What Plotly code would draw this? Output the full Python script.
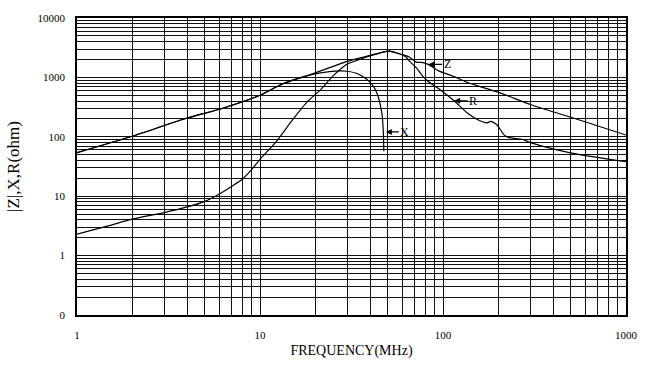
import math
import plotly.graph_objects as go

# |Z| impedance curve (ohm) vs frequency (MHz)
freq_z = [1, 2, 4, 6.2, 10, 13.1, 19.7, 29.7, 40, 50.7, 59.7, 65, 68.8, 72, 76.4, 83,
          94, 115, 136, 201, 303, 500, 1000]
z_ohm = [54, 102, 207, 300, 500, 767, 1172, 1840, 2350, 2770, 2430, 2230, 1960, 1790, 1790, 1656,
         1300, 1031, 820, 560, 347, 213, 107]

# Reactance X (ohm)
freq_x = [1, 2, 4, 6.2, 10, 13.1, 16.7, 20, 24, 27.4, 30, 33.6, 36.4, 39.6, 42, 43.9,
          45.8, 46.6, 47.2, 47.5]
x_ohm = [54, 102, 207, 300, 500, 760, 990, 1143, 1250, 1284, 1270, 1172, 1031, 851, 680, 509,
         304, 220, 120, 57]

# Resistance R (ohm)
freq_r = [1, 1.5, 2, 3, 4, 5, 5.9, 7.06, 8, 9, 10, 12.3, 14.8, 18.2, 21.4, 25, 29.7, 35,
          40, 50.7, 57.4, 62.5, 66, 72, 76.4, 83, 94, 115, 136, 154, 174, 182, 197, 215, 227,
          272, 303, 415, 550, 1000]
r_ohm = [2.3, 3.2, 4.1, 5.3, 6.6, 8.2, 10.6, 14.9, 19.3, 28, 41.7, 84, 180, 394, 618, 1050,
         1650, 2000, 2300, 2770, 2500, 2228, 1837, 1420, 1102, 851, 657, 404, 251, 195, 171, 182,
         160, 109, 98, 90, 79, 61, 50.6, 38]

# Curve labels: (text, frequency, ohm) at the arrow tip
curve_labels = [("Z", 83, 1656), ("R", 115, 404), ("X", 48.7, 121)]

# Log grid: every integer multiple within each decade
x_mult = [m for k in range(0, 3) for m in range(1, 10)] + [1]
x_grid = [m * 10 ** k for k in range(0, 3) for m in range(1, 10)] + [1000]
x_text = [str(v) if m == 1 else "" for v, m in zip(x_grid, x_mult)]
y_grid = [m * 10 ** k for k in range(-1, 4) for m in range(1, 10)] + [10000]
y_major = {0.1: "0", 1: "1", 10: "10", 100: "100", 1000: "1000", 10000: "10000"}
y_text = [y_major.get(round(v, 6), "") for v in y_grid]

serif = "Liberation Serif, Times New Roman, serif"
line_style = dict(color="black", width=1.2, shape="spline", smoothing=0.6)

fig = go.Figure()
fig.add_trace(go.Scatter(x=freq_z, y=z_ohm, mode="lines", line=line_style, name="|Z|"))
fig.add_trace(go.Scatter(x=freq_x, y=x_ohm, mode="lines", line=line_style, name="X"))
fig.add_trace(go.Scatter(x=freq_r, y=r_ohm, mode="lines", line=line_style, name="R"))

# annotations on log axes take log10 positions
for text, f, v in curve_labels:
    fig.add_annotation(x=math.log10(f), y=math.log10(v), xref="x", yref="y", text=text,
                       showarrow=True, ax=19, ay=0, arrowhead=2, arrowsize=1,
                       arrowwidth=1.2, arrowcolor="black", standoff=0,
                       font=dict(family=serif, size=12, color="black"))

axis_common = dict(type="log", showgrid=True, gridcolor="#111111", gridwidth=1.1,
                   showline=True, linecolor="black", linewidth=1.5, mirror=True,
                   ticks="", zeroline=False,
                   tickfont=dict(family=serif, size=11, color="black"))

fig.update_xaxes(range=[0, 3], tickmode="array", tickvals=x_grid, ticktext=x_text,
                 ticklabelstandoff=9,
                 title=dict(text="FREQUENCY(MHz)", standoff=5,
                            font=dict(family=serif, size=14, color="black")),
                 **axis_common)
fig.update_yaxes(range=[-1, 4], tickmode="array", tickvals=y_grid, ticktext=y_text,
                 ticklabelstandoff=8,
                 title=dict(text="|Z|,X,R(ohm)", standoff=14,
                            font=dict(family=serif, size=17, color="black")),
                 **axis_common)

fig.update_layout(width=650, height=370, showlegend=False,
                  margin=dict(l=72, r=18, t=16, b=55),
                  paper_bgcolor="white", plot_bgcolor="white")

fig.write_html("out.html")
